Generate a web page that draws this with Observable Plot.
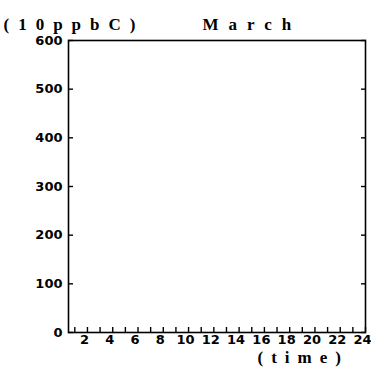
<!DOCTYPE html>
<html>
<head>
<meta charset="utf-8">
<script src="https://cdn.jsdelivr.net/npm/d3@7"></script>
<script src="https://cdn.jsdelivr.net/npm/@observablehq/plot@0.6"></script>
<style>
  html, body { margin: 0; padding: 0; background: #fff; }
</style>
</head>
<body>
<div id="chart"></div>
<script>
// Data: the reference panel is empty (no series drawn), only axes and labels.
const hours = d3.range(1, 25);                 // minor ticks on the time axis
const hourLabels = [2, 4, 6, 8, 10, 12, 14, 16, 18, 20, 22, 24];
const yTicks = [0, 100, 200, 300, 400, 500, 600];
const unitLabel = ["(10ppbC)"];
const titleLabel = ["March"];
const xTitle = ["(time)"];
const xDomain = [0.5, 24];
const yDomain = [0, 600];

const numFont = {fontFamily: "DejaVu Sans", fontWeight: "bold", fontSize: 13};
const titleFont = "Liberation Serif";

const plot = Plot.plot({
  width: 371,
  height: 373,
  marginLeft: 68,
  marginRight: 6,
  marginTop: 40,
  marginBottom: 41,
  style: {fontFamily: "DejaVu Sans", fontSize: "13px", color: "#000", background: "#fff"},
  x: {domain: xDomain},
  y: {domain: yDomain},
  marks: [
    Plot.frame({stroke: "#000", strokeWidth: 1.6}),
    // left axis labels
    Plot.axisY(yTicks, {anchor: "left", tickSize: 0, tickPadding: 6, label: null, ...numFont}),
    // inward ticks left and right
    Plot.axisY(yTicks, {anchor: "left", tickSize: -5, fill: "none", label: null, strokeWidth: 1.4}),
    Plot.axisY(yTicks, {anchor: "right", tickSize: -5, fill: "none", label: null, strokeWidth: 1.4}),
    // bottom inward ticks every hour
    Plot.axisX(hours, {anchor: "bottom", tickSize: -5, fill: "none", label: null, strokeWidth: 1.4}),
    // bottom labels every 2 hours
    Plot.axisX(hourLabels, {anchor: "bottom", tickSize: 0, tickPadding: 2, dx: -3, label: null, ...numFont}),
    Plot.text(unitLabel, {text: d => d, frameAnchor: "top-left", dx: -65, dy: -23, textAnchor: "start",
      fontFamily: titleFont, fontWeight: "bold", fontSize: 17}),
    Plot.text(titleLabel, {text: d => d, frameAnchor: "top-left", dx: 134, dy: -23, textAnchor: "start",
      fontFamily: titleFont, fontWeight: "bold", fontSize: 17}),
    Plot.text(xTitle, {text: d => d, frameAnchor: "bottom-left", dx: 189, dy: 30, textAnchor: "start",
      fontFamily: titleFont, fontWeight: "bold", fontSize: 17})
  ]
});

document.getElementById("chart").appendChild(plot);
const spacing = {"(10ppbC)": "9px", "March": "10px", "(time)": "8px"};
d3.select(plot).selectAll("text").each(function() {
  const t = this.textContent;
  if (spacing[t]) d3.select(this).style("letter-spacing", spacing[t]);
});
</script>
</body>
</html>
